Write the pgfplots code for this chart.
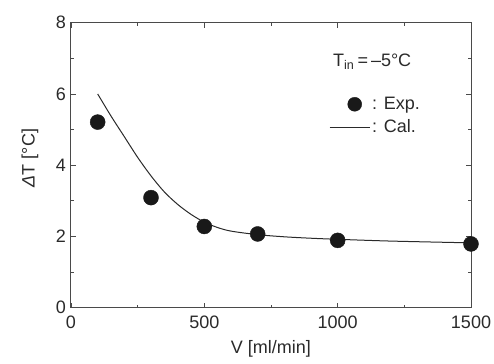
\documentclass[border=0pt]{standalone}
\usepackage{pgfplots}
\pgfplotsset{compat=1.18}
\usepackage{fontspec}
\setmainfont{Liberation Sans}
\definecolor{ink}{HTML}{2A2A2A}
\definecolor{frame}{HTML}{4A4A4A}
\newcommand{\F}{\fontsize{18}{21}\selectfont}
\begin{document}
\F
\begin{tikzpicture}
\begin{axis}[
  name=ax,
  width=400pt, height=285pt, scale only axis,
  xmin=0, xmax=1500, ymin=0, ymax=8,
  xtick={0,500,1000,1500}, ytick={0,2,4,6,8},
  minor xtick={250,750,1250}, minor ytick={1,3,5,7},
  tick align=inside,
  major tick length=5pt, minor tick length=3pt,
  axis line style={frame, line width=1pt},
  every tick/.style={frame, line width=0.8pt},
  /pgf/number format/assume math mode=true,
  /pgf/number format/1000 sep={},
  ticklabel style={font=\F, text=ink},
  xticklabel style={yshift=-2pt},
  yticklabel style={xshift=1pt},
  xlabel={V [ml/min]}, ylabel={\textit{Δ}T [°C]},
  label style={font=\F, text=ink},
  xlabel style={at={(axis description cs:0.5,-0.144)}, anchor=center},
  ylabel style={at={(axis description cs:-0.1025,0.525)}, anchor=center},
  legend style={draw=none, fill=none, inner sep=0pt, at={(axis description cs:0.645,0.748)}, anchor=north west,
    font=\F, text=ink, row sep=4pt},
  legend cell align=left,
]
\addplot[only marks, mark=*, mark size=7.5pt, color=black!90, mark options={fill=black!90, draw=none},
  legend image code/.code={\path[draw=none, fill=none] (0pt,-1pt) (40pt,1pt); \fill[black!90] (25pt,0pt) circle (7pt);}]
  coordinates {(100,5.21) (300,3.09) (500,2.28) (700,2.07) (1000,1.89) (1500,1.79)};
\addlegendentry{: Exp.}
\addplot[ink, line width=1pt, smooth, tension=0.5,
  legend image code/.code={\draw[ink, line width=1pt] (0pt,0pt) -- (40pt,0pt);}]
  coordinates {(100,6.0) (150,5.38) (200,4.80) (250,4.22) (300,3.70) (350,3.25) (400,2.90) (450,2.62) (500,2.40) (550,2.25) (600,2.15) (700,2.05) (800,1.99) (900,1.95) (1000,1.92) (1200,1.87) (1500,1.82)};
\addlegendentry{: Cal.}
\node[anchor=base west, text=ink, font=\F, inner sep=0pt] at (axis description cs:0.655,0.846) {T\textsubscript{in}\,=\,–5°C};
\end{axis}
\pgfresetboundingbox
\path[use as bounding box] ([shift={(-71pt,-56pt)}]ax.south west) rectangle ([shift={(23pt,22.7pt)}]ax.north east);
\end{tikzpicture}
\end{document}
